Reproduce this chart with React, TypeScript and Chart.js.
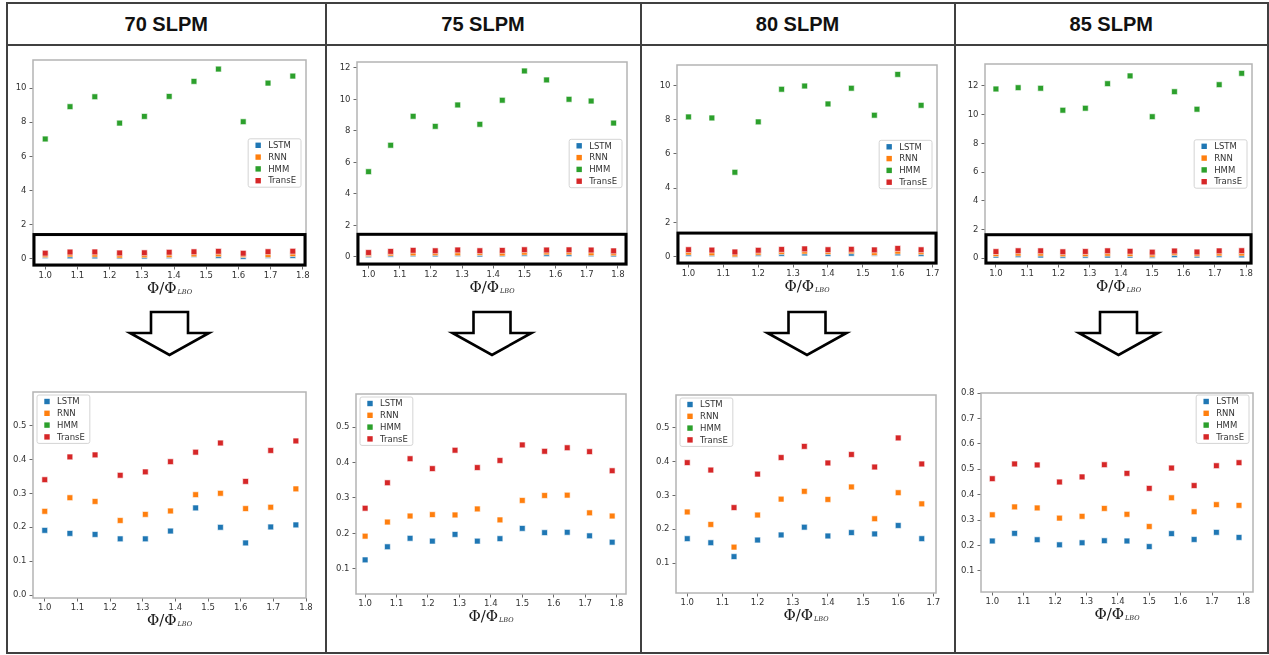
import React, { useEffect, useRef } from 'react';
import { Chart, registerables } from 'chart.js';

Chart.register(...registerables);

// ---- series and labels ----
const SERIES_NAMES = ['LSTM', 'RNN', 'HMM', 'TransE'];
const SERIES_COLORS = ['#1f77b4', '#ff7f0e', '#2ca02c', '#d62728'];
const FLOW_RATES = ['70 SLPM', '75 SLPM', '80 SLPM', '85 SLPM'];

// equivalence ratio Φ/Φ_LBO for each flow rate
const PHI_70 = [1.0, 1.077, 1.154, 1.231, 1.308, 1.385, 1.462, 1.538, 1.615, 1.692, 1.769];
const PHI_75 = [1.0, 1.071, 1.143, 1.214, 1.286, 1.357, 1.429, 1.5, 1.571, 1.643, 1.714, 1.786];
const PHI_80 = [1.0, 1.067, 1.133, 1.2, 1.267, 1.333, 1.4, 1.467, 1.533, 1.6, 1.667];
const PHI_85 = [1.0, 1.071, 1.143, 1.214, 1.286, 1.357, 1.429, 1.5, 1.571, 1.643, 1.714, 1.786];

// 70 SLPM
const LSTM_70 = [0.191, 0.182, 0.179, 0.166, 0.166, 0.189, 0.257, 0.2, 0.154, 0.201, 0.207];
const RNN_70 = [0.247, 0.287, 0.276, 0.22, 0.238, 0.248, 0.296, 0.3, 0.255, 0.259, 0.313];
const HMM_70 = [7.02, 8.91, 9.49, 7.95, 8.34, 9.51, 10.39, 11.11, 8.03, 10.29, 10.7];
const TRANSE_70 = [0.34, 0.407, 0.413, 0.353, 0.363, 0.393, 0.421, 0.448, 0.335, 0.426, 0.454];

// 75 SLPM
const LSTM_75 = [0.125, 0.162, 0.186, 0.178, 0.197, 0.178, 0.185, 0.214, 0.202, 0.203, 0.193, 0.175];
const RNN_75 = [0.192, 0.232, 0.249, 0.253, 0.252, 0.269, 0.238, 0.293, 0.307, 0.308, 0.258, 0.249];
const HMM_75 = [5.41, 7.09, 8.93, 8.29, 9.65, 8.42, 9.95, 11.81, 11.24, 10.01, 9.9, 8.5];
const TRANSE_75 = [0.271, 0.343, 0.411, 0.383, 0.435, 0.386, 0.406, 0.45, 0.432, 0.442, 0.431, 0.377];

// 80 SLPM
const LSTM_80 = [0.172, 0.16, 0.119, 0.168, 0.183, 0.206, 0.18, 0.19, 0.186, 0.211, 0.172];
const RNN_80 = [0.251, 0.214, 0.147, 0.242, 0.289, 0.312, 0.288, 0.325, 0.231, 0.308, 0.275];
const HMM_80 = [8.17, 8.11, 4.93, 7.88, 9.79, 9.98, 8.93, 9.85, 8.27, 10.66, 8.85];
const TRANSE_80 = [0.397, 0.375, 0.264, 0.363, 0.412, 0.445, 0.396, 0.421, 0.384, 0.47, 0.393];

// 85 SLPM
const LSTM_85 = [0.218, 0.248, 0.223, 0.203, 0.211, 0.219, 0.218, 0.196, 0.247, 0.224, 0.252, 0.232];
const RNN_85 = [0.321, 0.352, 0.348, 0.308, 0.315, 0.346, 0.323, 0.275, 0.388, 0.333, 0.361, 0.358];
const HMM_85 = [11.79, 11.88, 11.84, 10.31, 10.45, 12.16, 12.7, 9.86, 11.6, 10.38, 12.09, 12.88];
const TRANSE_85 = [0.463, 0.521, 0.517, 0.45, 0.47, 0.518, 0.484, 0.425, 0.505, 0.436, 0.514, 0.526];

// tick values
const X_TICKS_18 = [1.0, 1.1, 1.2, 1.3, 1.4, 1.5, 1.6, 1.7, 1.8];
const X_TICKS_17 = [1.0, 1.1, 1.2, 1.3, 1.4, 1.5, 1.6, 1.7];
const Y_TICKS_FULL_10 = [0, 2, 4, 6, 8, 10];
const Y_TICKS_FULL_12 = [0, 2, 4, 6, 8, 10, 12];
const Y_TICKS_ZOOM_70 = [0.0, 0.1, 0.2, 0.3, 0.4, 0.5];
const Y_TICKS_ZOOM_MID = [0.1, 0.2, 0.3, 0.4, 0.5];
const Y_TICKS_ZOOM_85 = [0.1, 0.2, 0.3, 0.4, 0.5, 0.6, 0.7, 0.8];

// ---- page layout ----
const PAGE_W = 1269;
const PAGE_H = 655;
const COL_EDGES = [7, 325.5, 640.5, 954.5, 1268];
const ROW_TOP = 3;
const HEADER_BOTTOM = 45;
const ROW_BOTTOM = 653;
const LINE_COLOR = '#404040';

const AXW = 28; // y-axis band width
const AXH = 42; // x-axis band height (ticks + title)
const PAD_T = 6;
const PAD_R = 8;

type Frame = [number, number, number, number];
type LegendLoc = 'right' | 'upper left' | 'upper right';

interface PanelSpec {
  frame: Frame;
  xs: number[];
  series: number[][];
  xLim: [number, number];
  yLim: [number, number];
  xTicks: number[];
  yTicks: number[];
  yDecimals: number;
  legend: LegendLoc;
  highlightTop?: number;
}

const COLUMNS = [
  {
    xs: PHI_70, series: [LSTM_70, RNN_70, HMM_70, TRANSE_70], xTicks: X_TICKS_18,
    full: { frame: [33, 60, 306, 266] as Frame, xLim: [0.962, 1.81] as [number, number], yLim: [-0.41, 11.64] as [number, number], yTicks: Y_TICKS_FULL_10, band: 1.43 },
    zoom: { frame: [33, 392, 306, 598] as Frame, xLim: [0.964, 1.8] as [number, number], yLim: [-0.008, 0.598] as [number, number], yTicks: Y_TICKS_ZOOM_70, legend: 'upper left' as LegendLoc },
  },
  {
    xs: PHI_75, series: [LSTM_75, RNN_75, HMM_75, TRANSE_75], xTicks: X_TICKS_18,
    full: { frame: [357, 62, 627, 265] as Frame, xLim: [0.963, 1.829] as [number, number], yLim: [-0.52, 12.38] as [number, number], yTicks: Y_TICKS_FULL_12, band: 1.43 },
    zoom: { frame: [356, 394, 626, 594] as Frame, xLim: [0.971, 1.83] as [number, number], yLim: [0.0285, 0.594] as [number, number], yTicks: Y_TICKS_ZOOM_MID, legend: 'upper left' as LegendLoc },
  },
  {
    xs: PHI_80, series: [LSTM_80, RNN_80, HMM_80, TRANSE_80], xTicks: X_TICKS_17,
    full: { frame: [677, 65, 937, 264] as Frame, xLim: [0.967, 1.7126] as [number, number], yLim: [-0.44, 11.21] as [number, number], yTicks: Y_TICKS_FULL_10, band: 1.37 },
    zoom: { frame: [676, 395, 936, 593] as Frame, xLim: [0.968, 1.7075] as [number, number], yLim: [0.0113, 0.597] as [number, number], yTicks: Y_TICKS_ZOOM_MID, legend: 'upper left' as LegendLoc },
  },
  {
    xs: PHI_85, series: [LSTM_85, RNN_85, HMM_85, TRANSE_85], xTicks: X_TICKS_18,
    full: { frame: [985, 64, 1252, 264] as Frame, xLim: [0.965, 1.819] as [number, number], yLim: [-0.4, 13.53] as [number, number], yTicks: Y_TICKS_FULL_12, band: 1.64 },
    zoom: { frame: [981, 393, 1253, 592] as Frame, xLim: [0.964, 1.8306] as [number, number], yLim: [0.0174, 0.8] as [number, number], yTicks: Y_TICKS_ZOOM_85, legend: 'upper right' as LegendLoc },
  },
];

const TICK_FONT = { family: 'DejaVu Sans', size: 8.5 };
const TEXT_COLOR = '#333333';

function makeDecorPlugin(p: PanelSpec) {
  return {
    id: 'panelDecor',
    afterDatasetsDraw(chart: any) {
      const { ctx, chartArea: a } = chart;
      ctx.save();
      // axes frame
      ctx.strokeStyle = '#b4b4b4';
      ctx.lineWidth = 1.5;
      ctx.strokeRect(a.left, a.top, a.right - a.left, a.bottom - a.top);
      // band around the low-error models
      if (p.highlightTop !== undefined) {
        const yTop = chart.scales.y.getPixelForValue(p.highlightTop);
        ctx.strokeStyle = '#000000';
        ctx.lineWidth = 3;
        ctx.strokeRect(a.left + 1, yTop, a.right - a.left - 2, a.bottom - 1 - yTop);
      }
      ctx.restore();
    },
    afterDraw(chart: any) {
      const { ctx, chartArea: a } = chart;
      ctx.save();
      // legend
      ctx.font = '8.5px "DejaVu Sans"';
      const textW = Math.max(...SERIES_NAMES.map((n) => ctx.measureText(n).width));
      const rowH = 11.8;
      const padV = 6.5;
      const boxW = 20 + textW + 5;
      const boxH = padV * 2 + rowH * 3;
      let bx = a.left + 4;
      let by = a.top + 3;
      if (p.legend === 'right') {
        bx = a.right - 5 - boxW;
        by = (a.top + a.bottom) / 2 - boxH / 2;
      } else if (p.legend === 'upper right') {
        bx = a.right - 4 - boxW;
        by = a.top + 2;
      }
      ctx.beginPath();
      ctx.roundRect(bx, by, boxW, boxH, 2);
      ctx.fillStyle = 'rgba(255,255,255,0.85)';
      ctx.fill();
      ctx.strokeStyle = '#d4d4d4';
      ctx.lineWidth = 1;
      ctx.stroke();
      SERIES_NAMES.forEach((name, k) => {
        const cy = by + padV + k * rowH;
        ctx.fillStyle = SERIES_COLORS[k];
        ctx.fillRect(bx + 10 - 2.7, cy - 2.7, 5.4, 5.4);
        ctx.fillStyle = TEXT_COLOR;
        ctx.textBaseline = 'middle';
        ctx.textAlign = 'left';
        ctx.fillText(name, bx + 20, cy + 0.5);
      });
      // x-axis title Φ/Φ_LBO
      const main = 'Φ/Φ';
      const sub = 'LBO';
      ctx.font = '15px "DejaVu Serif"';
      const mw = ctx.measureText(main).width;
      ctx.font = 'italic 6.5px "DejaVu Serif"';
      const sw = ctx.measureText(sub).width;
      const x0 = (a.left + a.right) / 2 - (mw + 1 + sw) / 2;
      const y0 = a.bottom + 23;
      ctx.fillStyle = '#1a1a1a';
      ctx.textBaseline = 'middle';
      ctx.font = '15px "DejaVu Serif"';
      ctx.fillText(main, x0, y0);
      ctx.font = 'italic 6.5px "DejaVu Serif"';
      ctx.fillText(sub, x0 + mw + 1, y0 + 3.5);
      ctx.restore();
    },
  };
}

function ScatterPanel({ spec }: { spec: PanelSpec }) {
  const ref = useRef<HTMLCanvasElement>(null);
  const [l, t, r, b] = spec.frame;
  const width = r - l + AXW + PAD_R;
  const height = b - t + PAD_T + AXH;

  useEffect(() => {
    if (!ref.current) return;
    const tickGrid = {
      display: true,
      drawOnChartArea: false,
      drawTicks: true,
      tickLength: 3.5,
      tickColor: '#444444',
      tickWidth: 0.8,
    };
    const chart = new Chart(ref.current, {
      type: 'scatter',
      data: {
        datasets: SERIES_NAMES.map((name, k) => ({
          label: name,
          data: spec.xs.map((x, i) => ({ x, y: spec.series[k][i] })),
          backgroundColor: SERIES_COLORS[k],
          borderColor: '#ffffff',
          borderWidth: 0.6,
          pointStyle: 'rect',
          pointRadius: 4.1,
          pointHoverRadius: 4.1,
          order: 3 - k,
        })),
      },
      options: {
        animation: false,
        responsive: false,
        maintainAspectRatio: false,
        events: [],
        layout: { padding: { left: 0, top: PAD_T, right: PAD_R, bottom: 0 } },
        plugins: { legend: { display: false }, tooltip: { enabled: false } },
        scales: {
          x: {
            type: 'linear',
            min: spec.xLim[0],
            max: spec.xLim[1],
            afterBuildTicks: (s: any) => {
              s.ticks = spec.xTicks.map((v) => ({ value: v }));
            },
            afterFit: (s: any) => {
              s.height = AXH;
              s.paddingLeft = 0;
              s.paddingRight = 0;
            },
            grid: tickGrid,
            border: { display: false },
            ticks: {
              font: TICK_FONT,
              color: TEXT_COLOR,
              padding: 1,
              maxRotation: 0,
              autoSkip: false,
              callback: (v: any) => Number(v).toFixed(1),
            },
          },
          y: {
            type: 'linear',
            min: spec.yLim[0],
            max: spec.yLim[1],
            afterBuildTicks: (s: any) => {
              s.ticks = spec.yTicks.map((v) => ({ value: v }));
            },
            afterFit: (s: any) => {
              s.width = AXW;
              s.paddingTop = 0;
              s.paddingBottom = 0;
            },
            grid: tickGrid,
            border: { display: false },
            ticks: {
              font: TICK_FONT,
              color: TEXT_COLOR,
              padding: 3,
              autoSkip: false,
              callback: (v: any) => Number(v).toFixed(spec.yDecimals),
            },
          },
        },
      },
      plugins: [makeDecorPlugin(spec)],
    } as any);
    return () => chart.destroy();
  }, [spec]);

  return (
    <canvas
      ref={ref}
      width={width}
      height={height}
      style={{ position: 'absolute', left: l - AXW, top: t - PAD_T, width, height }}
    />
  );
}

function DownArrow({ cx }: { cx: number }) {
  const top = 312;
  const shoulder = 333;
  const tip = 355;
  const stem = 18.5;
  const head = 39.5;
  const pts = [
    [cx - stem, top], [cx + stem, top], [cx + stem, shoulder], [cx + head, shoulder],
    [cx, tip], [cx - head, shoulder], [cx - stem, shoulder],
  ].map((q) => q.join(',')).join(' ');
  return <polygon points={pts} fill="#ffffff" stroke="#000000" strokeWidth={2.6} strokeLinejoin="miter" />;
}

const PANELS: { full: PanelSpec; zoom: PanelSpec }[] = COLUMNS.map((c) => ({
  full: {
    frame: c.full.frame, xs: c.xs, series: c.series, xLim: c.full.xLim, yLim: c.full.yLim,
    xTicks: c.xTicks, yTicks: c.full.yTicks, yDecimals: 0, legend: 'right', highlightTop: c.full.band,
  },
  zoom: {
    frame: c.zoom.frame, xs: c.xs, series: c.series, xLim: c.zoom.xLim, yLim: c.zoom.yLim,
    xTicks: c.xTicks, yTicks: c.zoom.yTicks, yDecimals: 1, legend: c.zoom.legend,
  },
}));

export default function App() {
  const lineStyle = (x: number, y: number, w: number, h: number): React.CSSProperties => ({
    position: 'absolute', left: x, top: y, width: w, height: h, background: LINE_COLOR,
  });
  return (
    <div style={{ position: 'absolute', left: 0, top: 0, width: PAGE_W, height: PAGE_H, background: '#ffffff', overflow: 'hidden' }}>
      {/* table grid */}
      <div style={lineStyle(COL_EDGES[0] - 1, ROW_TOP - 1, COL_EDGES[4] - COL_EDGES[0] + 2, 2)} />
      <div style={lineStyle(COL_EDGES[0] - 1, HEADER_BOTTOM - 1, COL_EDGES[4] - COL_EDGES[0] + 2, 2)} />
      <div style={lineStyle(COL_EDGES[0] - 1, ROW_BOTTOM - 1, COL_EDGES[4] - COL_EDGES[0] + 2, 2)} />
      {COL_EDGES.map((x, i) => (
        <div key={'v' + i} style={lineStyle(x - 1, ROW_TOP - 1, 2, ROW_BOTTOM - ROW_TOP + 2)} />
      ))}
      {/* column headers */}
      {FLOW_RATES.map((label, i) => (
        <div
          key={label}
          style={{
            position: 'absolute', left: COL_EDGES[i], top: ROW_TOP, width: COL_EDGES[i + 1] - COL_EDGES[i],
            height: HEADER_BOTTOM - ROW_TOP, display: 'flex', alignItems: 'center', justifyContent: 'center',
            fontFamily: '"Liberation Sans", Arial, sans-serif', fontWeight: 700, fontSize: 20, color: '#111111',
          }}
        >
          {label}
        </div>
      ))}
      {/* arrows from full view to zoomed view */}
      <svg width={PAGE_W} height={PAGE_H} style={{ position: 'absolute', left: 0, top: 0 }}>
        {PANELS.map((p, i) => (
          <DownArrow key={i} cx={(p.full.frame[0] + p.full.frame[2]) / 2} />
        ))}
      </svg>
      {PANELS.map((p, i) => (
        <React.Fragment key={i}>
          <ScatterPanel spec={p.full} />
          <ScatterPanel spec={p.zoom} />
        </React.Fragment>
      ))}
    </div>
  );
}
